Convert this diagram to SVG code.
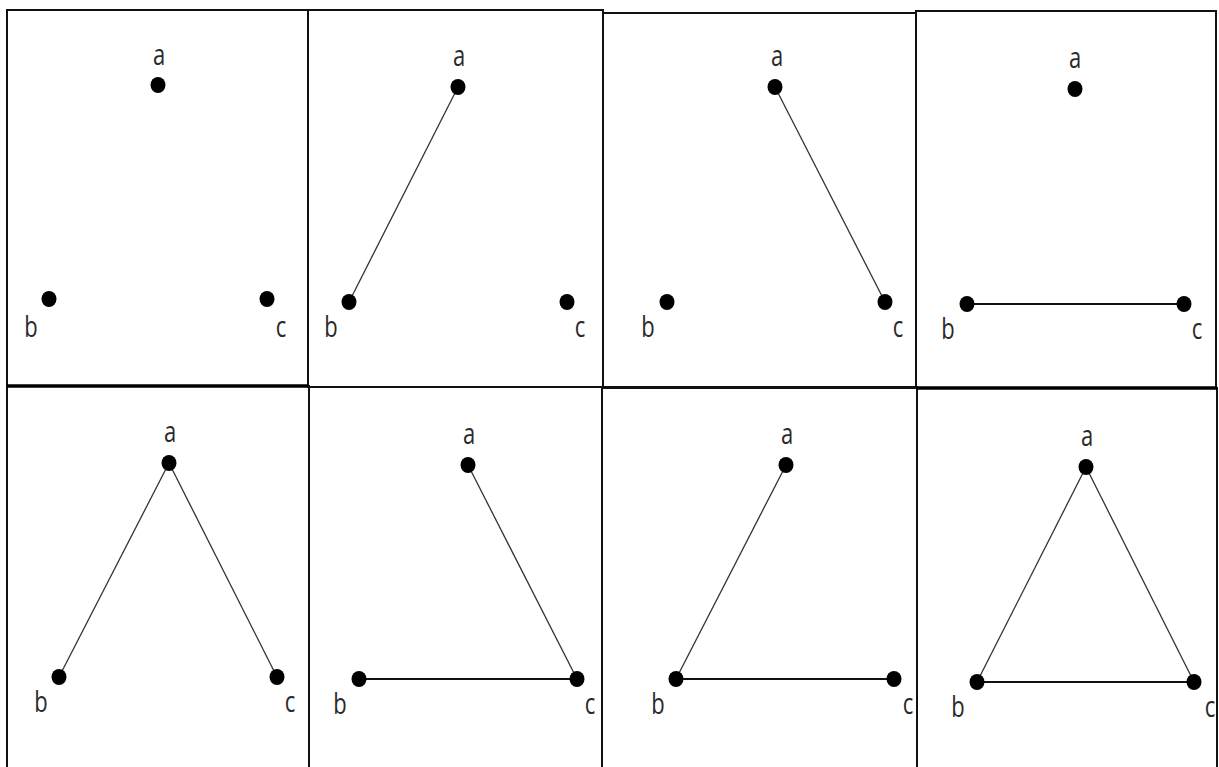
<svg xmlns="http://www.w3.org/2000/svg" width="1219" height="767" viewBox="0 0 1219 767">
<style>
.frame{fill:none;stroke:#111;stroke-width:2}
.thick{stroke:#000;stroke-width:3.5}
.edge{stroke:#333;stroke-width:1.3;fill:none}
.hedge{stroke:#111;stroke-width:2;fill:none}
.dot{fill:#000}
.lbl{font-family:"Open Sans","Liberation Sans",sans-serif;font-size:22px;fill:#2a2a2a;text-anchor:middle}
</style>
<rect width="1219" height="767" fill="#fff"/>
<g id="frames">
<rect class="frame" x="7" y="10" width="301" height="376"/>
<rect class="frame" x="308" y="10" width="295" height="377"/>
<rect class="frame" x="603" y="13" width="313" height="375"/>
<rect class="frame" x="916" y="11" width="300" height="377"/>
<rect class="frame" x="7" y="386" width="302" height="390"/>
<rect class="frame" x="309" y="387" width="293" height="390"/>
<rect class="frame" x="602" y="387" width="315" height="390"/>
<rect class="frame" x="917" y="388" width="300" height="390"/>
<line class="thick" x1="7" y1="386" x2="308" y2="386"/>
<line class="thick" x1="916" y1="388" x2="1217" y2="388"/>
</g>
<g id="connectors">
<line class="edge" x1="458" y1="87" x2="349" y2="302"/>
<line class="edge" x1="775" y1="87" x2="885" y2="302"/>
<line class="hedge" x1="967" y1="304" x2="1184" y2="304"/>
<line class="edge" x1="169" y1="463" x2="59" y2="677"/>
<line class="edge" x1="169" y1="463" x2="277" y2="677"/>
<line class="edge" x1="468" y1="465" x2="577" y2="679"/>
<line class="hedge" x1="359" y1="679" x2="577" y2="679"/>
<line class="edge" x1="786" y1="465" x2="676" y2="679"/>
<line class="hedge" x1="676" y1="679" x2="894" y2="679"/>
<line class="edge" x1="1086" y1="467" x2="977" y2="682"/>
<line class="edge" x1="1086" y1="467" x2="1194" y2="682"/>
<line class="hedge" x1="977" y1="682" x2="1194" y2="682"/>
</g>
<g id="p1-a"><ellipse class="dot" cx="158" cy="85" rx="7.5" ry="8"/><text class="lbl" transform="translate(159,65) scale(1,1.3)">a</text></g>
<g id="p1-b"><ellipse class="dot" cx="49" cy="299" rx="7.5" ry="8"/><text class="lbl" transform="translate(31,337) scale(1,1.3)">b</text></g>
<g id="p1-c"><ellipse class="dot" cx="267" cy="299" rx="7.5" ry="8"/><text class="lbl" transform="translate(281,337) scale(1,1.3)">c</text></g>
<g id="p2-a"><ellipse class="dot" cx="458" cy="87" rx="7.5" ry="8"/><text class="lbl" transform="translate(459,66) scale(1,1.3)">a</text></g>
<g id="p2-b"><ellipse class="dot" cx="349" cy="302" rx="7.5" ry="8"/><text class="lbl" transform="translate(331,337) scale(1,1.3)">b</text></g>
<g id="p2-c"><ellipse class="dot" cx="567" cy="302" rx="7.5" ry="8"/><text class="lbl" transform="translate(580,337) scale(1,1.3)">c</text></g>
<g id="p3-a"><ellipse class="dot" cx="775" cy="87" rx="7.5" ry="8"/><text class="lbl" transform="translate(777,66) scale(1,1.3)">a</text></g>
<g id="p3-b"><ellipse class="dot" cx="667" cy="302" rx="7.5" ry="8"/><text class="lbl" transform="translate(648,337) scale(1,1.3)">b</text></g>
<g id="p3-c"><ellipse class="dot" cx="885" cy="302" rx="7.5" ry="8"/><text class="lbl" transform="translate(898,337) scale(1,1.3)">c</text></g>
<g id="p4-a"><ellipse class="dot" cx="1075" cy="89" rx="7.5" ry="8"/><text class="lbl" transform="translate(1075,68) scale(1,1.3)">a</text></g>
<g id="p4-b"><ellipse class="dot" cx="967" cy="304" rx="7.5" ry="8"/><text class="lbl" transform="translate(948,339) scale(1,1.3)">b</text></g>
<g id="p4-c"><ellipse class="dot" cx="1184" cy="304" rx="7.5" ry="8"/><text class="lbl" transform="translate(1197,339) scale(1,1.3)">c</text></g>
<g id="p5-a"><ellipse class="dot" cx="169" cy="463" rx="7.5" ry="8"/><text class="lbl" transform="translate(170,442) scale(1,1.3)">a</text></g>
<g id="p5-b"><ellipse class="dot" cx="59" cy="677" rx="7.5" ry="8"/><text class="lbl" transform="translate(41,712) scale(1,1.3)">b</text></g>
<g id="p5-c"><ellipse class="dot" cx="277" cy="677" rx="7.5" ry="8"/><text class="lbl" transform="translate(290,712) scale(1,1.3)">c</text></g>
<g id="p6-a"><ellipse class="dot" cx="468" cy="465" rx="7.5" ry="8"/><text class="lbl" transform="translate(469,444) scale(1,1.3)">a</text></g>
<g id="p6-b"><ellipse class="dot" cx="359" cy="679" rx="7.5" ry="8"/><text class="lbl" transform="translate(340,714) scale(1,1.3)">b</text></g>
<g id="p6-c"><ellipse class="dot" cx="577" cy="679" rx="7.5" ry="8"/><text class="lbl" transform="translate(590,714) scale(1,1.3)">c</text></g>
<g id="p7-a"><ellipse class="dot" cx="786" cy="465" rx="7.5" ry="8"/><text class="lbl" transform="translate(787,444) scale(1,1.3)">a</text></g>
<g id="p7-b"><ellipse class="dot" cx="676" cy="679" rx="7.5" ry="8"/><text class="lbl" transform="translate(658,714) scale(1,1.3)">b</text></g>
<g id="p7-c"><ellipse class="dot" cx="894" cy="679" rx="7.5" ry="8"/><text class="lbl" transform="translate(908,714) scale(1,1.3)">c</text></g>
<g id="p8-a"><ellipse class="dot" cx="1086" cy="467" rx="7.5" ry="8"/><text class="lbl" transform="translate(1087,446) scale(1,1.3)">a</text></g>
<g id="p8-b"><ellipse class="dot" cx="977" cy="682" rx="7.5" ry="8"/><text class="lbl" transform="translate(958,717) scale(1,1.3)">b</text></g>
<g id="p8-c"><ellipse class="dot" cx="1194" cy="682" rx="7.5" ry="8"/><text class="lbl" transform="translate(1210,717) scale(1,1.3)">c</text></g>
</svg>
